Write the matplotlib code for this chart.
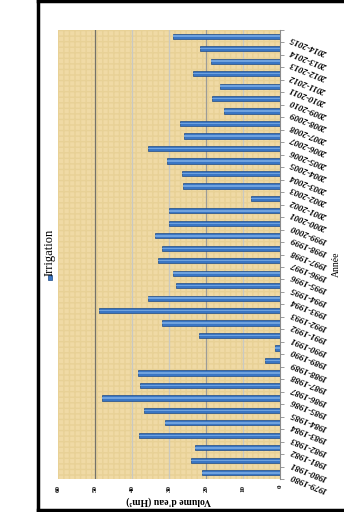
import matplotlib
matplotlib.use("Agg")
import matplotlib.pyplot as plt
from matplotlib.lines import Line2D
from matplotlib.patches import Rectangle

# Irrigation water volume per hydrological year (Hm³)
years = ["1979-1980", "1980-1981", "1981-1982", "1982-1983", "1983-1984", "1984-1985",
         "1985-1986", "1986-1987", "1987-1988", "1988-1989", "1989-1990", "1990-1991",
         "1991-1992", "1992-1993", "1993-1994", "1994-1995", "1995-1996", "1996-1997",
         "1997-1998", "1998-1999", "1999-2000", "2000-2001", "2001-2002", "2002-2003",
         "2003-2004", "2004-2005", "2005-2006", "2006-2007", "2007-2008", "2008-2009",
         "2009-2010", "2010-2011", "2011-2012", "2012-2013", "2013-2014", "2014-2015"]
irrigation = [21.1, 24.0, 23.1, 38.2, 31.2, 36.7,
              48.0, 37.9, 38.3, 4.0, 1.4, 22.0,
              31.8, 49.0, 35.6, 28.2, 29.0, 33.0,
              31.8, 33.9, 30.0, 30.0, 7.8, 26.3,
              26.6, 30.5, 35.7, 25.9, 27.0, 15.1,
              18.4, 16.2, 23.4, 18.7, 21.6, 29.0]
value_ticks = [0, 10, 20, 30, 40, 50, 60]

serif = ["Liberation Serif", "DejaVu Serif"]

fig = plt.figure(figsize=(3.44, 5.12), dpi=100)
fig.patch.set_facecolor("white")

W, H = 344.0, 512.0
ax = fig.add_axes([58 / W, 1 - 479 / H, (280 - 58) / W, (479 - 30) / H])
ax.set_facecolor("#F0DAA5")

# woven parchment look
ax.add_patch(Rectangle((0, 0), 1, 1, transform=ax.transAxes, facecolor="none",
                       edgecolor="#E8D196", hatch="+++", linewidth=0, zorder=0.5))

pos = list(range(len(years)))
ax.barh(pos, irrigation, height=0.42, color="#3A76C4", edgecolor="#1F4A86",
        linewidth=0.5, zorder=3)
ax.barh(pos, irrigation, height=0.12, color="#6FA2DE", linewidth=0, zorder=4)

ax.set_xlim(60, 0)
ax.set_ylim(-0.5, len(years) - 0.5)

# vertical grid lines
grid_colors = {10: "#C9C9C2", 20: "#9C9C98", 30: "#C9C9C2", 40: "#C9C9C2", 50: "#74736A"}
for v, c in grid_colors.items():
    ax.axvline(v, color=c, linewidth=0.9, zorder=1)

for s in ["top", "left", "bottom"]:
    ax.spines[s].set_visible(False)
ax.spines["right"].set_color("#8C8C8C")
ax.spines["right"].set_linewidth(0.8)

ax.set_xticks(value_ticks)
ax.set_xticklabels([str(v) for v in value_ticks], rotation=90, fontsize=5,
                   family=serif, fontweight="bold")
ax.tick_params(axis="x", length=0, pad=4)

ax.yaxis.tick_right()
ax.set_yticks(pos)
ax.set_yticklabels([])
ax.set_yticks([p - 0.5 for p in pos] + [len(years) - 0.5], minor=True)
ax.tick_params(axis="y", which="major", length=0)
ax.tick_params(axis="y", which="minor", length=3, color="#8C8C8C", width=0.6)

for p, lab in zip(pos, years):
    ax.text(1.05, (p + 0.3) / len(years), lab, transform=ax.transAxes,
            rotation=158, rotation_mode="anchor", ha="right", va="center",
            fontsize=6.5, family=serif, fontstyle="italic", fontweight="bold")

ax.set_xlabel("Volume d'eau (Hm³)", rotation=180, fontsize=7, family=serif,
              fontweight="bold", labelpad=3)

fig.text(336 / W, 1 - 264 / H, "Année", rotation=90, ha="center", va="center",
         fontsize=7, family=serif)

# legend
fig.patches.append(Rectangle((48 / W, 1 - 280 / H), 4 / W, 5 / H, transform=fig.transFigure,
                             facecolor="#3A76C4", edgecolor="#1F4A86", linewidth=0.5))
fig.text(50 / W, 1 - 276 / H, "Irrigation", rotation=90, ha="center", va="bottom",
         fontsize=9, family=serif)

# outer frame
frame_kw = dict(transform=fig.transFigure, color="black", linewidth=2.5)
fig.add_artist(Line2D([38 / W, 38 / W], [1 - 510 / H, 1.0], **frame_kw))
fig.add_artist(Line2D([38 / W, 1.0], [1 - 1 / H, 1 - 1 / H], **frame_kw))
fig.add_artist(Line2D([38 / W, 1.0], [1 - 510 / H, 1 - 510 / H], **frame_kw))

fig.savefig("out.png", dpi=100)
